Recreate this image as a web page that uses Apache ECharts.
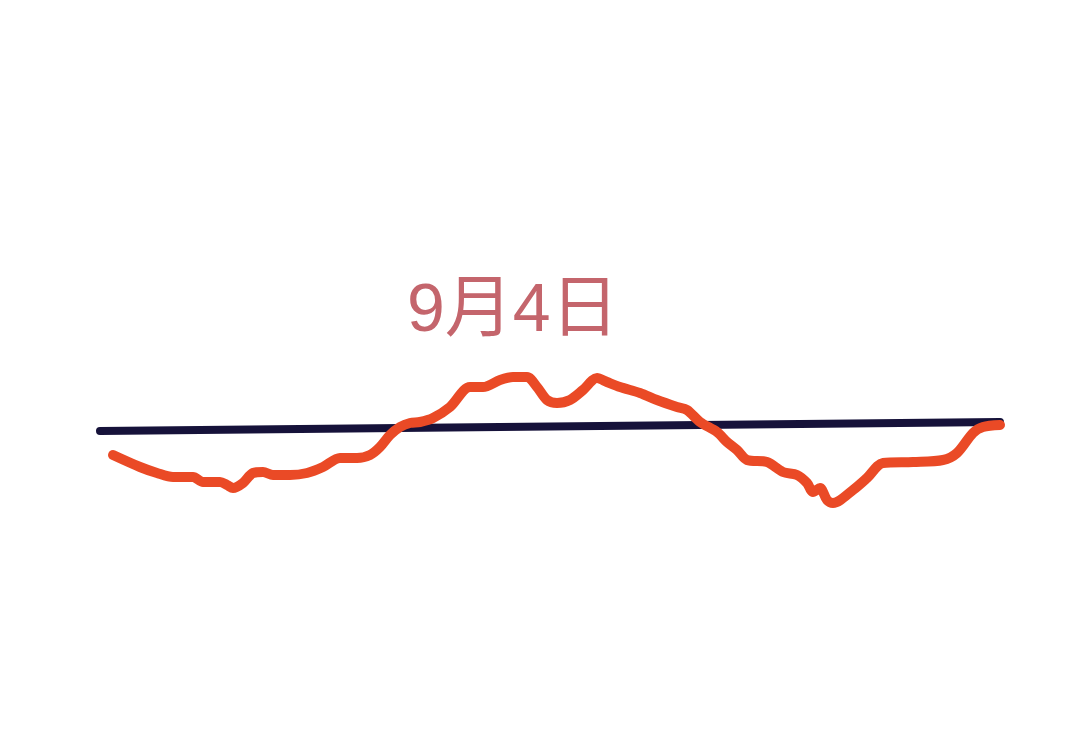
<!DOCTYPE html>
<html>
<head>
<meta charset="utf-8">
<script src="https://cdn.jsdelivr.net/npm/echarts@6/dist/echarts.min.js"></script>
<style>html,body{margin:0;padding:0;background:#fff;}#c{width:1080px;height:739px;}</style>
</head>
<body>
<div id="c"></div>
<script>
// Orange curve: x positions and heights (arbitrary units)
var orangeX = [113,140,157,173,193,203,220,227,233,243,253,263,273,290,307,323,340,357,370,380,390,400,410,420,433,450,470,483,500,513,527,537,547,557,570,583,597,607,620,640,657,677,687,700,717,727,737,747,767,783,797,807,813,820,827,833,853,867,883,913,943,957,973,983,1000];
var orangeY = [284,272,266,262,262,257,257,254,251,256,266,267,264,264,266,272,281,281,284,292,304,312,316,317,321,332,352,352,359,362,362,352,339,336,339,349,361,357,352,346,339,332,329,317,307,297,289,279,277,267,264,256,247,251,239,236,249,261,276,277,279,286,306,312,314];
// Navy reference line
var navyX = [100,1000];
var navyY = [308,317];
var labelText = '9月4日';

function pairs(xs, ys){ return xs.map(function(x,i){ return [x, ys[i]]; }); }

var chart = echarts.init(document.getElementById('c'));
chart.setOption({
  backgroundColor: '#ffffff',
  animation: false,
  grid: {left: 0, right: 0, top: 0, bottom: 0},
  xAxis: {type: 'value', min: 0, max: 1080, show: false},
  yAxis: {type: 'value', min: 0, max: 739, show: false},
  graphic: [{
    type: 'text', left: 407, top: 278,
    style: {text: labelText, fill: '#c4656c', font: '400 68px "Liberation Sans", "Noto Sans CJK SC", sans-serif'}
  }],
  series: [
    {type: 'line', data: pairs(navyX, navyY), showSymbol: false, symbol: 'none', z: 2,
     lineStyle: {color: '#16123a', width: 8, cap: 'round'}},
    {type: 'line', data: pairs(orangeX, orangeY), showSymbol: false, symbol: 'none', smooth: 0.3, z: 3,
     lineStyle: {color: '#ea4a26', width: 10, cap: 'round', join: 'round'}}
  ]
});
</script>
</body>
</html>
